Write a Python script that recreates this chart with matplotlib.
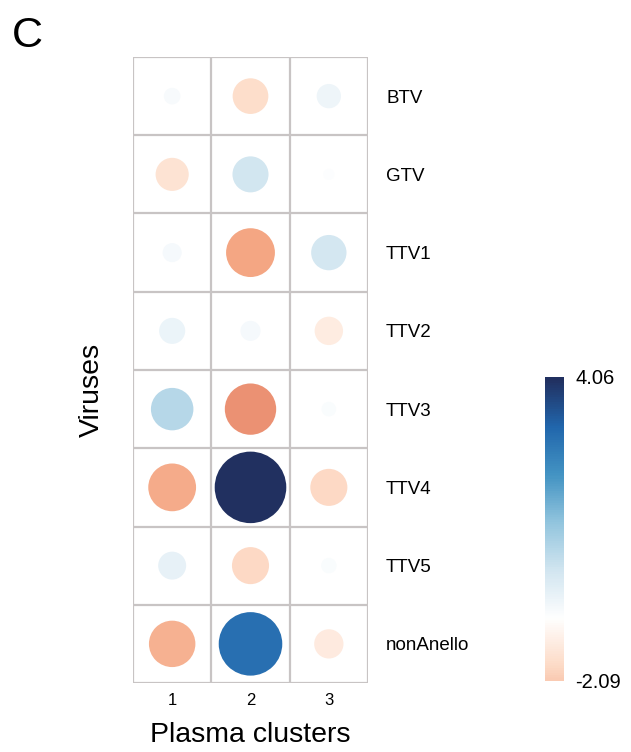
import numpy as np
import matplotlib.pyplot as plt
from matplotlib.colors import LinearSegmentedColormap
from matplotlib.patches import Circle

plt.rcParams['font.family'] = ['Liberation Sans', 'DejaVu Sans']

viruses = ["BTV", "GTV", "TTV1", "TTV2", "TTV3", "TTV4", "TTV5", "nonAnello"]
clusters = ["1", "2", "3"]
# rows = viruses, cols = plasma clusters
values = np.array([
    [0.22, -1.01, 0.47],
    [-0.87, 1.03, 0.10],
    [0.29, -1.89, 0.99],
    [0.54, 0.32, -0.64],
    [1.43, -2.09, 0.17],
    [-1.81, 4.06, -1.09],
    [0.62, -1.09, 0.19],
    [-1.71, 3.20, -0.68],
])
vmin, vmax = -2.09, 4.06

# corrplot-like RdBu palette (blue = positive)
cols = ["#67001F", "#B2182B", "#D6604D", "#F4A582", "#FDDBC7", "#FFFFFF",
        "#D1E5F0", "#92C5DE", "#4393C3", "#2166AC", "#213060"]
cmap = LinearSegmentedColormap.from_list("rdbu", cols, N=200)
lim = max(abs(vmin), abs(vmax))


def colour(v):
    f = np.sign(v) * (abs(v) / lim) ** 1.2
    return cmap(0.5 + 0.5 * f)


fig = plt.figure(figsize=(6.31, 7.52), dpi=100)
W, H = 631, 752
ax = fig.add_axes([133 / W, 1 - 683 / H, 235 / W, 626 / H])

nrow, ncol = values.shape
for i in range(nrow):
    for j in range(ncol):
        v = values[i, j]
        y = nrow - 1 - i + 0.5
        x = j + 0.5
        r = 0.457 * np.sqrt(abs(v) / lim)
        ax.add_patch(Circle((x, y), r, facecolor=colour(v), edgecolor="none"))

gc = "#c8c4c4"
for k in range(ncol + 1):
    ax.axvline(k, color=gc, lw=1.6)
for k in range(nrow + 1):
    ax.axhline(k, color=gc, lw=1.6)

ax.set_xlim(0, ncol)
ax.set_ylim(0, nrow)
for s in ax.spines.values():
    s.set_visible(False)
ax.set_xticks(np.arange(ncol) + 0.5)
ax.set_xticklabels(clusters, fontsize=12)
ax.set_yticks(np.arange(nrow) + 0.5)
ax.set_yticklabels(viruses[::-1], fontsize=13.5)
ax.yaxis.tick_right()
ax.tick_params(axis="both", length=0)
ax.tick_params(axis="y", pad=13)
ax.tick_params(axis="x", pad=7)

fig.text((133 + 368) / 2 / W, 1 - 735 / H, "Plasma clusters", fontsize=20.5,
         ha="center", va="center")
fig.text(92 / W, 1 - 390 / H, "Viruses", fontsize=20.5, rotation=90,
         ha="center", va="center")

# colour bar
cax = fig.add_axes([545 / W, 1 - 681 / H, 19 / W, 304 / H])
grad = np.linspace(0.37, 1.0, 256).reshape(-1, 1)
cax.imshow(grad, cmap=cmap, vmin=0, vmax=1, aspect="auto", origin="lower",
           extent=[0, 1, vmin, vmax])
cax.set_xticks([])
cax.set_yticks([vmin, vmax])
cax.set_yticklabels([f"{vmin:.2f}", f"{vmax:.2f}"], fontsize=14.5)
cax.yaxis.tick_right()
cax.tick_params(axis="y", length=0, pad=8)
for s in cax.spines.values():
    s.set_visible(False)

fig.text(12 / W, 1 - 47 / H, "C", fontsize=31)

fig.savefig("out.png", dpi=100)
